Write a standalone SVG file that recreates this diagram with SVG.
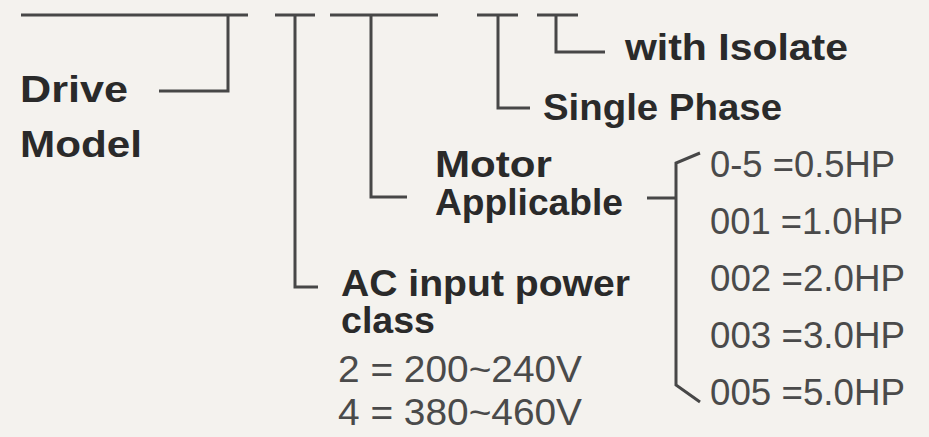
<svg xmlns="http://www.w3.org/2000/svg" width="929" height="437" viewBox="0 0 929 437">
<style>
.bg{fill:#f4f2ee}
.ln{fill:none;stroke:#474747;stroke-width:3;stroke-linecap:butt;stroke-linejoin:miter}
.b{font-family:"Liberation Sans",Arial,sans-serif;font-weight:bold;font-size:36px;fill:#2a2a2a}
.n{font-family:"Liberation Sans",Arial,sans-serif;font-weight:normal;font-size:37px;fill:#4a4a4a}
</style>
<rect class="bg" x="0" y="0" width="929" height="437"/>
<g id="connectors">
<path class="ln" d="M21 15H248"/>
<path class="ln" d="M275 15H315"/>
<path class="ln" d="M330 15H438"/>
<path class="ln" d="M477 15H518"/>
<path class="ln" d="M537 15H578"/>
<path class="ln" d="M228 15V91H159"/>
<path class="ln" d="M295 15V287H318"/>
<path class="ln" d="M371 15V197H407"/>
<path class="ln" d="M498 15V108H530"/>
<path class="ln" d="M556 15V52H605"/>
<path class="ln" d="M647 198H676"/>
<path class="ln" d="M700 153L676 163V385L700 402"/>
</g>
<g id="drive-model">
<text class="b" x="20" y="102" textLength="108" lengthAdjust="spacingAndGlyphs">Drive</text>
<text class="b" x="20" y="157" textLength="122" lengthAdjust="spacingAndGlyphs">Model</text>
</g>
<g id="with-isolate">
<text class="b" x="625" y="60" textLength="223" lengthAdjust="spacingAndGlyphs">with Isolate</text>
</g>
<g id="single-phase">
<text class="b" x="543" y="120" textLength="239" lengthAdjust="spacingAndGlyphs">Single Phase</text>
</g>
<g id="motor-applicable">
<text class="b" x="435" y="177" textLength="117" lengthAdjust="spacingAndGlyphs">Motor</text>
<text class="b" x="435" y="215" textLength="188" lengthAdjust="spacingAndGlyphs">Applicable</text>
</g>
<g id="ac-input">
<text class="b" x="341" y="296" font-size="35" textLength="289" lengthAdjust="spacingAndGlyphs">AC input power</text>
<text class="b" x="341" y="333" font-size="35" textLength="94" lengthAdjust="spacingAndGlyphs">class</text>
<text class="n" x="338" y="382" textLength="244" lengthAdjust="spacingAndGlyphs">2 = 200~240V</text>
<text class="n" x="338" y="425" textLength="244" lengthAdjust="spacingAndGlyphs">4 = 380~460V</text>
</g>
<g id="hp-list">
<text class="n" x="710" y="177" textLength="185" lengthAdjust="spacingAndGlyphs">0-5 =0.5HP</text>
<text class="n" x="710" y="234" textLength="193" lengthAdjust="spacingAndGlyphs">001 =1.0HP</text>
<text class="n" x="710" y="291" textLength="195" lengthAdjust="spacingAndGlyphs">002 =2.0HP</text>
<text class="n" x="710" y="348" textLength="195" lengthAdjust="spacingAndGlyphs">003 =3.0HP</text>
<text class="n" x="710" y="405" textLength="195" lengthAdjust="spacingAndGlyphs">005 =5.0HP</text>
</g>
</svg>
